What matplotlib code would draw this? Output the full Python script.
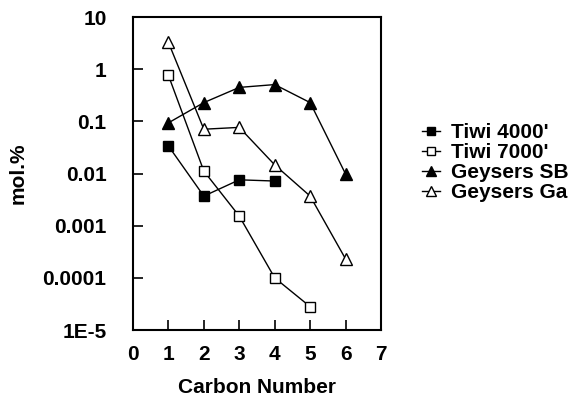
import matplotlib
matplotlib.use("Agg")
import matplotlib.pyplot as plt
from matplotlib.ticker import FixedLocator, FixedFormatter, NullLocator

plt.rcParams['font.family'] = ['Liberation Sans', 'DejaVu Sans']
plt.rcParams['font.weight'] = 'bold'

carbon = [1, 2, 3, 4, 5, 6]
tiwi4000 = [0.034, 0.0037, 0.0076, 0.0072]
tiwi7000 = [0.77, 0.0112, 0.00153, 0.0001, 0.000028]
geysers_sb = [0.094, 0.23, 0.45, 0.51, 0.23, 0.0098]
geysers_ga = [3.3, 0.071, 0.077, 0.0147, 0.0037, 0.00023]
series_names = ["Tiwi 4000'", "Tiwi 7000'", "Geysers SB", "Geysers Ga"]
ytick_vals = [1e-5, 1e-4, 1e-3, 1e-2, 1e-1, 1, 10]
ytick_labels = ["1E-5", "0.0001", "0.001", "0.01", "0.1", "1", "10"]
xtick_vals = [0, 1, 2, 3, 4, 5, 6, 7]

fig = plt.figure(figsize=(5.73, 4.0), dpi=100)
ax = fig.add_axes([0.232, 0.175, 0.433, 0.782])

kw = dict(color='black', lw=1.0)
ax.plot(carbon[:len(tiwi4000)], tiwi4000, marker='s', ms=7.5, mfc='black', mec='black', label=series_names[0], **kw)
ax.plot(carbon[:len(tiwi7000)], tiwi7000, marker='s', ms=7.5, mfc='white', mec='black', mew=1.0, label=series_names[1], **kw)
ax.plot(carbon, geysers_sb, marker='^', ms=8, mfc='black', mec='black', label=series_names[2], **kw)
ax.plot(carbon, geysers_ga, marker='^', ms=8, mfc='white', mec='black', mew=1.0, label=series_names[3], **kw)

ax.set_yscale('log')
ax.set_ylim(1e-5, 10)
ax.set_xlim(0, 7)
ax.yaxis.set_major_locator(FixedLocator(ytick_vals))
ax.yaxis.set_major_formatter(FixedFormatter(ytick_labels))
ax.yaxis.set_minor_locator(NullLocator())
ax.set_xticks(xtick_vals)
ax.tick_params(direction='in', length=7, width=1.2, labelsize=15)
ax.tick_params(axis='y', pad=19)
ax.tick_params(axis='x', pad=11)
for sp in ax.spines.values():
    sp.set_linewidth(1.5)
for lab in ax.get_xticklabels() + ax.get_yticklabels():
    lab.set_fontweight('bold')

ax.set_xlabel('Carbon Number', fontsize=15, fontweight='bold', labelpad=10)
ax.set_ylabel('mol.%', fontsize=15, fontweight='bold', labelpad=11)

leg = ax.legend(loc='center left', bbox_to_anchor=(1.09, 0.535), frameon=False,
                handlelength=0.85, handletextpad=0.55, labelspacing=0.05, markerscale=0.85,
                prop={'weight': 'bold', 'size': 15})

fig.savefig('out.png', dpi=100)
